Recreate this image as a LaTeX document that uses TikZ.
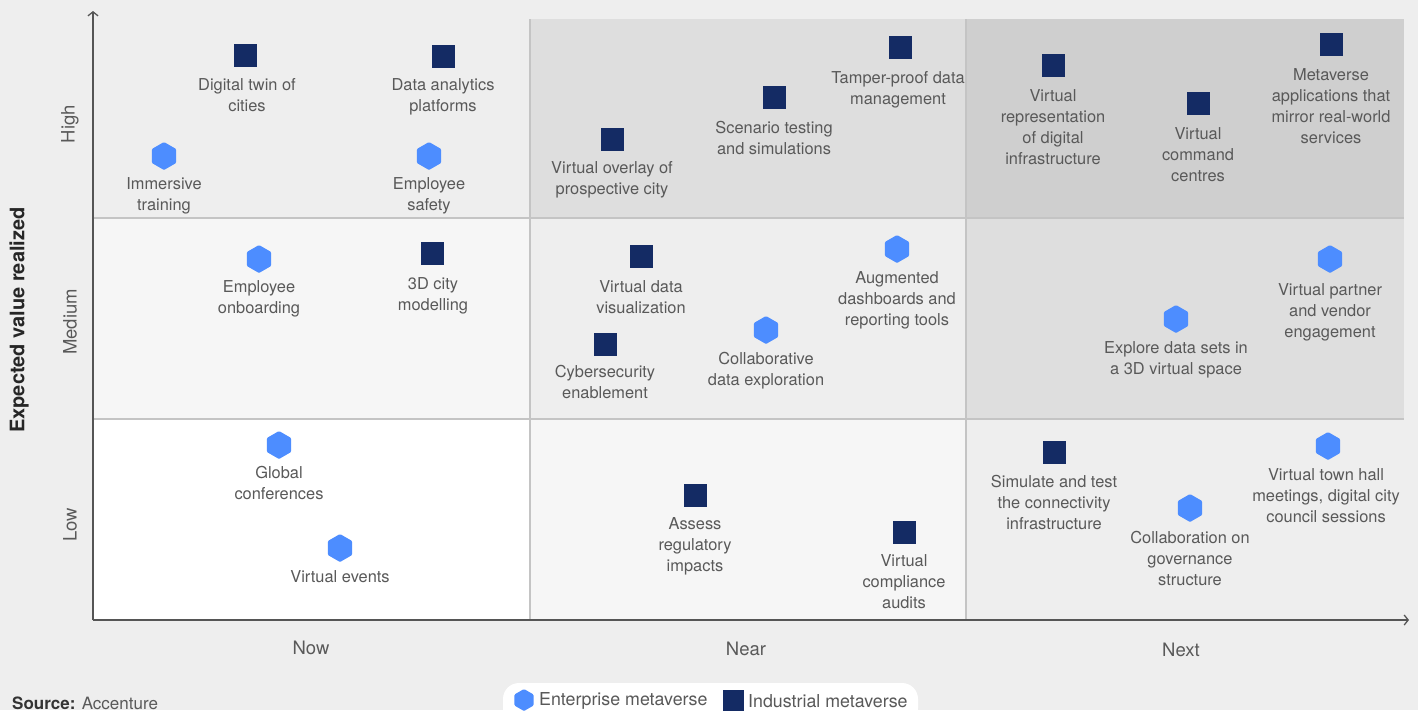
\documentclass[tikz,border=0pt]{standalone}
\usepackage{fontspec}
\setmainfont{TeX Gyre Heros}
\usetikzlibrary{shapes.geometric,arrows.meta}
\definecolor{bg}{HTML}{EEEEEE}
\definecolor{cA}{HTML}{FFFFFF}
\definecolor{cB}{HTML}{F6F6F6}
\definecolor{cC}{HTML}{EEEEEE}
\definecolor{cD}{HTML}{DEDEDE}
\definecolor{cE}{HTML}{CFCFCF}
\definecolor{gridc}{HTML}{C4C4C4}
\definecolor{axisc}{HTML}{555555}
\definecolor{txt}{HTML}{595959}
\definecolor{navy}{HTML}{142B64}
\definecolor{hexblue}{HTML}{4D8DFF}
\tikzset{
  sqm/.style={rectangle, fill=navy, minimum size=23pt, inner sep=0pt},
  hexm/.style={regular polygon, regular polygon sides=6, shape border rotate=30,
     fill=hexblue, minimum size=28pt, inner sep=0pt, rounded corners=1pt},
  lbl/.style={anchor=north, align=center, inner sep=0pt, text=txt,
     font=\fontsize{16.4}{21}\selectfont, execute at begin node=\strut},
  axislbl/.style={text=txt, font=\fontsize{18.5}{22}\selectfont, inner sep=0pt},
  axisline/.style={draw=axisc, line width=1.3pt, -{Straight Barb[length=4pt,width=10pt]}},
  gridline/.style={draw=gridc, line width=1.5pt}
}
\newcommand\sqitem[6]{\node[sqm] (#1) at (#2,#3) {};\node[lbl] (#1t) at (#4,#5-5) {#6};}
\newcommand\hxitem[6]{\node[hexm] (#1) at (#2,#3) {};\node[lbl] (#1t) at (#4,#5-5) {#6};}
\begin{document}
\begin{tikzpicture}[x=1pt,y=-1pt]
\useasboundingbox (0,0) rectangle (1418,710);
\clip (0,0) rectangle (1418,710);
\fill[bg] (0,0) rectangle (1418,710);
% cells
\fill[cC] (93,19) rectangle (530,218);
\fill[cD] (530,19) rectangle (966,218);
\fill[cE] (966,19) rectangle (1404,218);
\fill[cB] (93,218) rectangle (530,419);
\fill[cC] (530,218) rectangle (966,419);
\fill[cD] (966,218) rectangle (1404,419);
\fill[cA] (93,419) rectangle (530,620);
\fill[cB] (530,419) rectangle (966,620);
\fill[cC] (966,419) rectangle (1404,620);
% grid
\draw[gridline] (93,218) -- (1404,218);
\draw[gridline] (93,419) -- (1404,419);
\draw[gridline] (530,19) -- (530,620);
\draw[gridline] (966,19) -- (966,620);
% axes
\coordinate (o) at (93,620);
\coordinate (ytop) at (93,11);
\coordinate (xend) at (1409,620);
\draw[axisline] (o) -- (ytop);
\draw[axisline] (o) -- (xend);
% axis labels
\node[axislbl, rotate=90] (lhigh) at (70,124) {High};
\node[axislbl, rotate=90] (lmed) at (70,322) {Medium};
\node[axislbl, rotate=90] (llow) at (70,525) {Low};
\node[axislbl] (lnow) at (311,648) {Now};
\node[axislbl] (lnear) at (746,649) {Near};
\node[axislbl] (lnext) at (1181,650) {Next};
\node[rotate=90, inner sep=0pt, font=\fontsize{20}{22}\selectfont\bfseries, text=black!85] (ylab) at (19,320) {Expected value realized};
\node[anchor=base west, inner sep=0pt, font=\fontsize{17}{20}\selectfont, text=black!80] (src) at (12,709) {\textbf{Source:} \textcolor{txt}{Accenture}};
% Now / High
\sqitem{a1}{245}{55}{247}{83}{Digital twin of\\cities}
\sqitem{a2}{443}{56}{443}{83}{Data analytics\\platforms}
\hxitem{a3}{164}{156}{164}{182}{Immersive\\training}
\hxitem{a4}{429}{156}{429}{182}{Employee\\safety}
% Near / High
\sqitem{b1}{612}{139}{612}{166}{Virtual overlay of\\prospective city}
\sqitem{b2}{774}{97}{774}{126}{Scenario testing\\and simulations}
\sqitem{b3}{900}{47}{898}{76}{Tamper-proof data\\management}
% Next / High
\sqitem{c1}{1053}{65}{1053}{94}{Virtual\\representation\\of digital\\infrastructure}
\sqitem{c2}{1198}{103}{1198}{132}{Virtual\\command\\centres}
\sqitem{c3}{1331}{44}{1331}{73}{Metaverse\\applications that\\mirror real-world\\services}
% Now / Medium
\hxitem{d1}{259}{259}{259}{285}{Employee\\onboarding}
\sqitem{d2}{432}{253}{433}{282}{3D city\\modelling}
% Near / Medium
\sqitem{e1}{641}{256}{641}{285}{Virtual data\\visualization}
\hxitem{e2}{897}{249}{897}{276}{Augmented\\dashboards and\\reporting tools}
\hxitem{e3}{766}{330}{766}{357}{Collaborative\\data exploration}
\sqitem{e4}{605}{344}{605}{370}{Cybersecurity\\enablement}
% Next / Medium
\hxitem{f1}{1330}{259}{1330}{288}{Virtual partner\\and vendor\\engagement}
\hxitem{f2}{1176}{319}{1176}{346}{Explore data sets in\\a 3D virtual space}
% Now / Low
\hxitem{g1}{279}{445}{279}{471}{Global\\conferences}
\hxitem{g2}{340}{548}{340}{573}{Virtual events}
% Near / Low
\sqitem{h1}{695}{495}{695}{522}{Assess\\regulatory\\impacts}
\sqitem{h2}{904}{532}{904}{559}{Virtual\\compliance\\audits}
% Next / Low
\sqitem{i1}{1054}{452}{1054}{480}{Simulate and test\\the connectivity\\infrastructure}
\hxitem{i2}{1328}{446}{1326}{473}{Virtual town hall\\meetings, digital city\\council sessions}
\hxitem{i3}{1190}{508}{1190}{536}{Collaboration on\\governance\\structure}
% legend
\fill[white, rounded corners=16pt] (503,683) rectangle (918,724);
\node[hexm, minimum size=22pt] (lg1) at (524,700) {};
\node[anchor=west, inner sep=0pt, text=txt, font=\fontsize{17.8}{20}\selectfont] (lg1t) at (539,701) {Enterprise metaverse};
\node[sqm, minimum size=21pt] (lg2) at (733,700) {};
\node[anchor=west, inner sep=0pt, text=txt, font=\fontsize{17.8}{20}\selectfont] (lg2t) at (748,701) {Industrial metaverse};
\end{tikzpicture}
\end{document}
